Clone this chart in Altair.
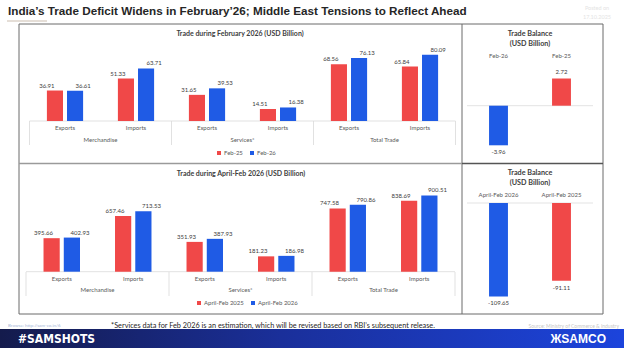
import altair as alt
import pandas as pd

RED = "#F04848"
BLUE = "#1F5BE5"
FONT = "Lato"
DARK = "#404040"
GREY = "#595959"

# ---------------- data ----------------
groups = ["Merchandise", "Merchandise", "Services*", "Services*", "Total Trade", "Total Trade"]
flows = ["Exports", "Imports", "Exports", "Imports", "Exports", "Imports"]
group_names = ["Merchandise", "Services*", "Total Trade"]

series_feb = ["Feb-25", "Feb-26"]
feb25 = [36.91, 51.33, 31.65, 14.51, 68.56, 65.84]
feb26 = [36.61, 63.71, 39.53, 16.38, 76.13, 80.09]

series_apr = ["April-Feb 2025", "April-Feb 2026"]
apr25 = [395.66, 657.46, 351.93, 181.23, 747.58, 838.69]
apr26 = [402.93, 713.53, 387.93, 186.98, 790.86, 900.51]

bal_feb_cats = ["Feb-26", "Feb-25"]
bal_feb_vals = [-3.96, 2.72]
bal_apr_cats = ["April-Feb 2026", "April-Feb 2025"]
bal_apr_vals = [-109.65, -91.11]


def txt(s, x, y, size=6, color=GREY, weight="normal", align="center", font=FONT, baseline="middle"):
    return alt.Chart(pd.DataFrame({"t": [s]})).mark_text(
        font=font, fontSize=size, color=color, fontWeight=weight, align=align, baseline=baseline
    ).encode(text="t:N", x=alt.value(x), y=alt.value(y))


def rule(x1, x2, y1, y2, color="#7f7f7f", w=1.0):
    return alt.Chart(pd.DataFrame({"a": [0]})).mark_rule(color=color, strokeWidth=w).encode(
        x=alt.value(x1), x2=alt.value(x2), y=alt.value(y1), y2=alt.value(y2)
    )


def grouped(va, vb, series, x_rng, y_dom, y_rng, cat_y, grp_y, sep_y, leg_xy):
    keys = [f"{g}|{f}" for g, f in zip(groups, flows)]
    rows = []
    for s, vals in zip(series, [va, vb]):
        for k, g, f, v in zip(keys, groups, flows, vals):
            rows.append(dict(key=k, group=g, flow=f, series=s, value=v, label=f"{v:.2f}"))
    df = pd.DataFrame(rows)
    xs = alt.X("key:N", sort=keys,
               scale=alt.Scale(domain=keys, range=x_rng, paddingInner=0.49, paddingOuter=0.245), axis=None)
    xo = alt.XOffset("series:N", sort=series,
                     scale=alt.Scale(domain=series, paddingInner=0.2, paddingOuter=0))
    ys = alt.Y("value:Q", scale=alt.Scale(domain=y_dom, range=y_rng, nice=False), axis=None)
    bars = alt.Chart(df).mark_bar().encode(
        x=xs, xOffset=xo, y=ys,
        color=alt.Color("series:N", sort=series, scale=alt.Scale(domain=series, range=[RED, BLUE]),
                        legend=alt.Legend(orient="none", legendX=leg_xy[0], legendY=leg_xy[1],
                                          direction="horizontal", title=None, symbolType="square",
                                          symbolSize=16, symbolStrokeWidth=0, labelFont=FONT,
                                          labelFontSize=6, labelColor=GREY, columnPadding=6,
                                          labelOffset=2, padding=0)),
    )
    labels = alt.Chart(df).mark_text(font=FONT, fontSize=6, color=DARK, baseline="bottom", dy=-2).encode(
        x=xs, xOffset=xo, y=ys, text="label:N")
    cats = alt.Chart(df[df.series == series[0]]).mark_text(font=FONT, fontSize=6, color=GREY).encode(
        x=xs, y=alt.value(cat_y), text="flow:N")
    grp = alt.Chart(pd.DataFrame({"group": group_names})).mark_text(font=FONT, fontSize=6, color=GREY).encode(
        x=alt.X("group:N", sort=group_names,
                scale=alt.Scale(domain=group_names, range=x_rng, paddingInner=0, paddingOuter=0), axis=None),
        y=alt.value(grp_y), text="group:N")
    seps = alt.Chart(pd.DataFrame({"b": [0, 1, 2, 3]})).mark_rule(color="#d9d9d9", strokeWidth=0.8).encode(
        x=alt.X("b:Q", scale=alt.Scale(domain=[0, 3], range=x_rng, nice=False, zero=False), axis=None),
        y=alt.value(sep_y[0]), y2=alt.value(sep_y[1]))
    base = alt.Chart(pd.DataFrame({"value": [0]})).mark_rule(color="#d9d9d9", strokeWidth=0.8).encode(
        y=ys, x=alt.value(x_rng[0]), x2=alt.value(x_rng[1]))
    return [base, seps, bars, labels, cats, grp]


def balance(cats, vals, y_dom, y_rng, cat_y):
    colors = [BLUE, RED]
    df = pd.DataFrame({"cat": cats, "value": vals, "label": [f"{v:.2f}" for v in vals]})
    xs = alt.X("cat:N", sort=cats,
               scale=alt.Scale(domain=cats, range=[467, 593], paddingInner=0.7, paddingOuter=0.35), axis=None)
    ys = alt.Y("value:Q", scale=alt.Scale(domain=y_dom, range=y_rng, nice=False), axis=None)
    zero = alt.Chart(pd.DataFrame({"value": [0]})).mark_rule(color="#e3e3e3", strokeWidth=1).encode(
        y=ys, x=alt.value(467), x2=alt.value(593))
    bars = alt.Chart(df).mark_bar().encode(
        x=xs, y=ys, color=alt.Color("cat:N", sort=cats, scale=alt.Scale(domain=cats, range=colors), legend=None))
    pos = alt.Chart(df).transform_filter("datum.value >= 0").mark_text(
        font=FONT, fontSize=6, color=DARK, baseline="bottom", dy=-4).encode(x=xs, y=ys, text="label:N")
    neg = alt.Chart(df).transform_filter("datum.value < 0").mark_text(
        font=FONT, fontSize=6, color=DARK, baseline="top", dy=4).encode(x=xs, y=ys, text="label:N")
    catl = alt.Chart(df).mark_text(font=FONT, fontSize=6, color=GREY).encode(
        x=xs, y=alt.value(cat_y), text="cat:N")
    return [zero, bars, pos, neg, catl]


layers = []
# banner
layers.append(
    alt.Chart(pd.DataFrame({"a": [0]})).mark_rect(
        color=alt.Gradient(gradient="linear", x1=0, x2=1, y1=0, y2=0,
                           stops=[alt.GradientStop(color="#141b4c", offset=0),
                                  alt.GradientStop(color="#1a2f9a", offset=0.45),
                                  alt.GradientStop(color="#1c44dc", offset=1)])
    ).encode(x=alt.value(0), x2=alt.value(624), y=alt.value(329), y2=alt.value(348))
)
# frame
layers.append(
    alt.Chart(pd.DataFrame({"a": [0]})).mark_rect(fillOpacity=0, stroke="#6b6b6b", strokeWidth=1).encode(
        x=alt.value(19), x2=alt.value(603), y=alt.value(24), y2=alt.value(314))
)
layers.append(rule(462, 462, 24, 314, "#6b6b6b", 1))
layers.append(rule(19, 462, 163.5, 163.5, "#9a9a9a", 1.3))
layers.append(rule(462, 603, 163.5, 163.5, "#555555", 1.3))
layers.append(rule(7, 47, 21, 21, "#cbbdb0", 1.2))

# titles / notes
layers.append(txt("India\u2019s Trade Deficit Widens in February\u201926; Middle East Tensions to Reflect Ahead",
                  8, 11, size=11.7, color="#262626", weight="bold", align="left", font="Liberation Sans"))
layers.append(txt("Posted on", 597, 8, size=5.5, color="#e4e4e4"))
layers.append(txt("17.10.2025", 597, 17, size=5.5, color="#e4e4e4"))
layers.append(txt("Trade during February 2026 (USD Billion)", 240, 34, size=7, color=DARK, weight="bold"))
layers.append(txt("Trade during April-Feb 2026 (USD Billion)", 241, 174, size=7, color=DARK, weight="bold"))
layers.append(txt("Trade Balance", 530, 34, size=7.2, color=DARK, weight="bold"))
layers.append(txt("(USD Billion)", 530, 44, size=7.2, color=DARK, weight="bold"))
layers.append(txt("Trade Balance", 530, 173, size=7.2, color=DARK, weight="bold"))
layers.append(txt("(USD Billion)", 530, 183, size=7.2, color=DARK, weight="bold"))
layers.append(txt("*Services data for Feb 2026 is an estimation, which will be revised based on RBI\u2019s subsequent release.",
                  273, 326, size=7.3, color="#262626"))
layers.append(txt("Browse: http://sam-co.in/6", 8, 326, size=4.5, color="#a8b8d8", align="left"))
layers.append(txt("Source: Ministry of Commerce & Industry", 619, 326, size=5, color="#c8c8c8", align="right"))
layers.append(txt("#SAMSHOTS", 18, 339, size=12, color="white", weight="bold", align="left",
                  font="DejaVu Sans Condensed"))
layers.append(txt("\u0416SAMCO", 606, 339, size=12, color="white", weight="bold", align="right",
                  font="Liberation Sans"))

# charts
layers += grouped(feb25, feb26, series_feb, [29.5, 455.5], [0, 80], [121, 121 - 0.826 * 80],
                  128, 140, (121, 145), (216, 150))
layers += grouped(apr25, apr26, series_apr, [26, 455], [0, 1000], [271.7, 271.7 - 0.0847 * 1000],
                  279, 290, (272, 296), (196, 300))
layers += balance(bal_feb_cats, bal_feb_vals, [-4, 3], [145.7, 75.7], 56)
layers += balance(bal_apr_cats, bal_apr_vals, [-120, 0], [203 + 0.852 * 120, 203], 195)

chart = alt.layer(*layers).resolve_scale(
    x="independent", y="independent", color="independent", xOffset="independent"
).properties(
    width=624, height=351, autosize=alt.AutoSizeParams(type="none"), padding=0, background="white"
).configure_view(strokeWidth=0)

chart.save("out.html", embed_options={"renderer": "svg", "actions": False})
